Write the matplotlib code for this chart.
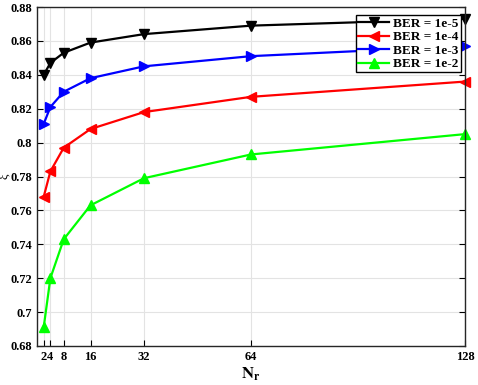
import matplotlib.pyplot as plt
from matplotlib.ticker import FuncFormatter

plt.rcParams["font.family"] = ["Liberation Serif", "DejaVu Serif"]
plt.rcParams["font.weight"] = "bold"
plt.rcParams["mathtext.fontset"] = "stix"

nr = [2, 4, 8, 16, 32, 64, 128]
ber_1e5 = [0.840, 0.847, 0.853, 0.859, 0.864, 0.869, 0.873]
ber_1e4 = [0.768, 0.783, 0.797, 0.808, 0.818, 0.827, 0.836]
ber_1e3 = [0.811, 0.821, 0.830, 0.838, 0.845, 0.851, 0.857]
ber_1e2 = [0.691, 0.720, 0.743, 0.763, 0.779, 0.793, 0.805]
labels = ["BER = 1e-5", "BER = 1e-4", "BER = 1e-3", "BER = 1e-2"]

fig = plt.figure(figsize=(4.78, 3.85), dpi=100)
ax = fig.add_axes([37 / 478, 1 - 346 / 385, 428 / 478, 339 / 385])

series = [
    (ber_1e5, "black", "v"),
    (ber_1e4, "red", "<"),
    (ber_1e3, "blue", ">"),
    (ber_1e2, "#00ff00", "^"),
]
for (vals, col, mk), lab in zip(series, labels):
    ax.plot(nr, vals, color=col, marker=mk, markersize=6.5, linewidth=1.6, label=lab, clip_on=False)

ax.set_xlim(0, 128)
ax.set_ylim(0.68, 0.88)
ax.set_xticks(nr)
ax.set_yticks([0.68 + 0.02 * i for i in range(11)])
ax.yaxis.set_major_formatter(FuncFormatter(lambda v, p: f"{v:.2f}".rstrip("0").rstrip(".")))
ax.tick_params(direction="in", top=False, right=True, labelsize=9, length=4, width=0.8)
ax.grid(True, color="#e3e3e3", linewidth=0.8)
ax.set_axisbelow(True)
for s in ax.spines.values():
    s.set_linewidth(1.0)
    s.set_color("#262626")

ax.set_xlabel(r"$\mathbf{N_r}$", fontsize=12, labelpad=2)
ax.set_ylabel("ξ", fontsize=9)
ax.yaxis.set_label_coords(-0.062, 0.5)

leg = ax.legend(loc="upper right", bbox_to_anchor=(0.99, 0.975), fontsize=9.5, fancybox=False,
                edgecolor="black", framealpha=1, borderpad=0.15, labelspacing=0.1,
                handlelength=2.4, handletextpad=0.3, borderaxespad=0)
leg.get_frame().set_linewidth(1.0)

fig.savefig("out.png", dpi=100)
